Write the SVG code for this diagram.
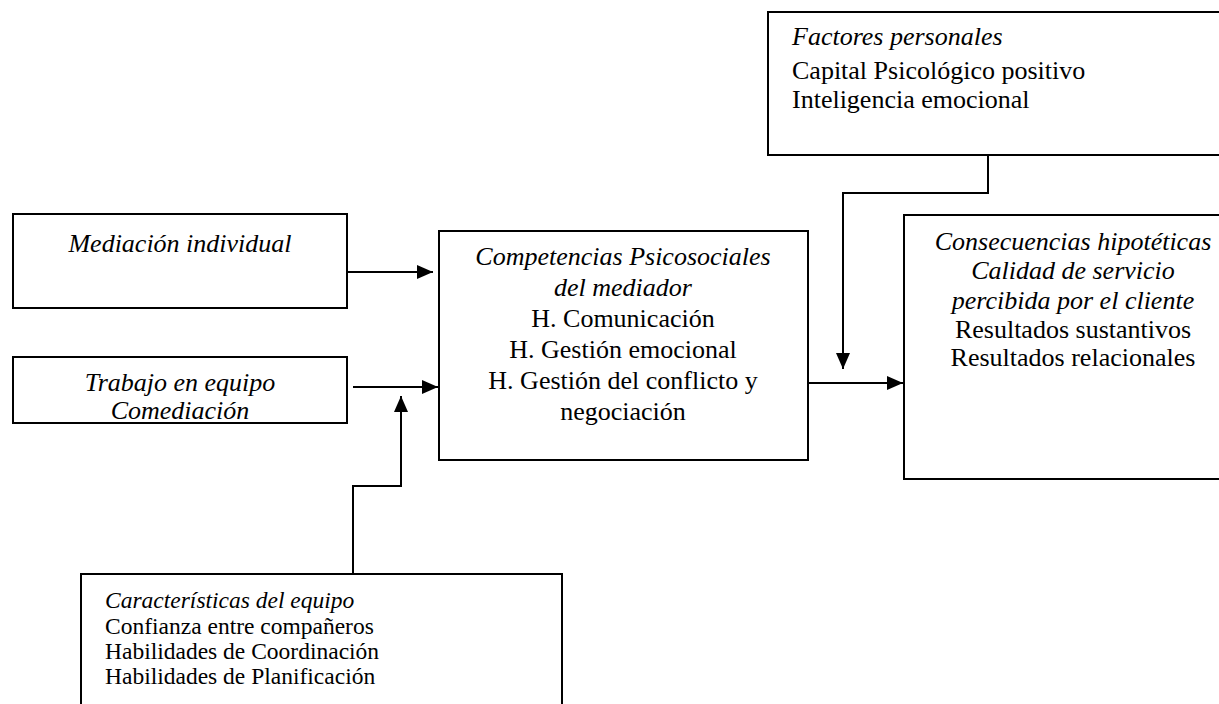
<svg xmlns="http://www.w3.org/2000/svg" width="1219" height="704" viewBox="0 0 1219 704">
<defs>
<style>
.box{fill:#fff;stroke:#000;stroke-width:2}
.t{font-family:"Liberation Serif","Times New Roman",serif;font-size:26px;fill:#000}
.s{font-size:23.5px}
.i{font-style:italic}
.c{text-anchor:middle}
.con{fill:none;stroke:#000;stroke-width:2}
</style>
<marker id="ah" viewBox="0 0 16 14" refX="16" refY="7" markerWidth="16" markerHeight="14" markerUnits="userSpaceOnUse" orient="auto">
<path d="M0,0 L16,7 L0,14 z" fill="#000"/>
</marker>
</defs>
<rect width="1219" height="704" fill="#fff"/>
<g id="factores">
<rect class="box" x="768" y="12" width="460" height="143"/>
<text class="t i" x="792" y="45">Factores personales</text>
<text class="t" x="792" y="79">Capital Psicológico positivo</text>
<text class="t" x="792" y="108">Inteligencia emocional</text>
</g>
<g id="mediacion">
<rect class="box" x="13" y="214" width="334" height="94"/>
<text class="t i c" x="180" y="252">Mediación individual</text>
</g>
<g id="trabajo">
<rect class="box" x="13" y="357" width="334" height="66"/>
<text class="t i c" x="180" y="391">Trabajo en equipo</text>
<text class="t i c" x="180" y="419">Comediación</text>
</g>
<g id="competencias">
<rect class="box" x="439" y="231" width="369" height="229"/>
<text class="t i c" x="623" y="265">Competencias Psicosociales</text>
<text class="t i c" x="623" y="296">del mediador</text>
<text class="t c" x="623" y="327">H. Comunicación</text>
<text class="t c" x="623" y="358">H. Gestión emocional</text>
<text class="t c" x="623" y="389">H. Gestión del conflicto y</text>
<text class="t c" x="623" y="420">negociación</text>
</g>
<g id="consecuencias">
<rect class="box" x="904" y="215" width="330" height="264"/>
<text class="t i c" x="1073" y="250">Consecuencias hipotéticas</text>
<text class="t i c" x="1073" y="279">Calidad de servicio</text>
<text class="t i c" x="1073" y="309">percibida por el cliente</text>
<text class="t c" x="1073" y="338">Resultados sustantivos</text>
<text class="t c" x="1073" y="366">Resultados relacionales</text>
</g>
<g id="caracteristicas">
<rect class="box" x="81" y="574" width="481" height="140"/>
<text class="t s i" x="105" y="608">Características del equipo</text>
<text class="t s" x="105" y="634">Confianza entre compañeros</text>
<text class="t s" x="105" y="659">Habilidades de Coordinación</text>
<text class="t s" x="105" y="684">Habilidades de Planificación</text>
</g>
<g id="connectors">
<path class="con" d="M347,272 H433" marker-end="url(#ah)"/>
<path class="con" d="M353,387 H438" marker-end="url(#ah)"/>
<path class="con" d="M353,574 V486 H401 V396" marker-end="url(#ah)"/>
<path class="con" d="M808,383 H903" marker-end="url(#ah)"/>
<path class="con" d="M988,155 V193 H843 V369" marker-end="url(#ah)"/>
</g>
</svg>
